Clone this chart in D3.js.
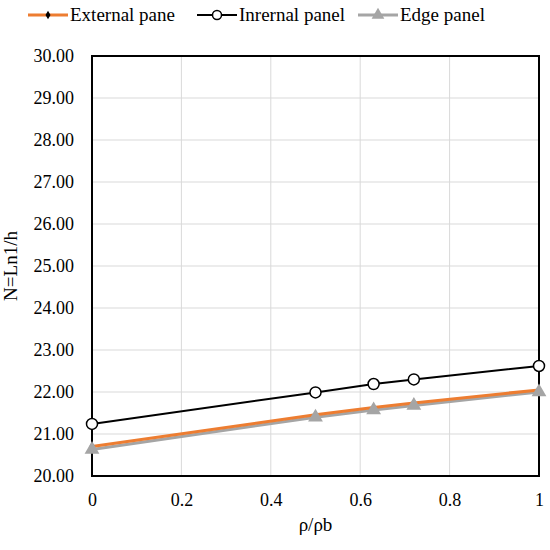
<!DOCTYPE html>
<html><head><meta charset="utf-8">
<script src="https://cdn.jsdelivr.net/npm/d3@7"></script>
<style>body{margin:0;background:#fff}svg{display:block}</style>
</head><body>
<svg id="c" width="550" height="550"></svg>
<script>
const xValues = [0, 0.5, 0.63, 0.72, 1];
const externalPane = [20.70, 21.46, 21.63, 21.74, 22.05];
const internalPanel = [21.24, 21.99, 22.19, 22.30, 22.62];
const edgePanel = [20.63, 21.40, 21.57, 21.68, 22.00];
const xTicks = [0, 0.2, 0.4, 0.6, 0.8, 1];
const yTicks = [20, 21, 22, 23, 24, 25, 26, 27, 28, 29, 30];
const seriesNames = ["External pane", "Inrernal panel", "Edge panel"];

const svg = d3.select("#c");
const L = 92, R = 539, T = 56, B = 476;
const x = d3.scaleLinear().domain([0, 1]).range([L, R]);
const y = d3.scaleLinear().domain([20, 30]).range([B, T]);
const FONT = "'Liberation Serif', 'Times New Roman', serif";

// grid
svg.append("g").selectAll("line.v").data(xTicks).join("line")
  .attr("x1", d => x(d)).attr("x2", d => x(d)).attr("y1", T).attr("y2", B)
  .attr("stroke", "#d9d9d9").attr("stroke-width", 1);
svg.append("g").selectAll("line.h").data(yTicks).join("line")
  .attr("x1", L).attr("x2", R).attr("y1", d => y(d)).attr("y2", d => y(d))
  .attr("stroke", "#d9d9d9").attr("stroke-width", 1);

const xAxis = svg.append("g").attr("transform", `translate(0,${B})`)
  .call(d3.axisBottom(x).tickValues(xTicks).tickFormat(d => d3.format("")(d)).tickSize(0).tickPadding(17));
xAxis.select(".domain").remove();
xAxis.selectAll("text").attr("fill", "#000").style("font-family", FONT).style("font-size", "18px");

const yAxis = svg.append("g").attr("transform", `translate(${L},0)`)
  .call(d3.axisLeft(y).tickValues(yTicks).tickFormat(d3.format(".2f")).tickSize(0).tickPadding(18));
yAxis.select(".domain").remove();
yAxis.selectAll("text").attr("fill", "#000").style("font-family", FONT).style("font-size", "18px");

// border
svg.append("rect").attr("x", L).attr("y", T).attr("width", R - L).attr("height", B - T)
  .attr("fill", "none").attr("stroke", "#000").attr("stroke-width", 2);

const line = d3.line().x((d, i) => x(xValues[i])).y(d => y(d));

// internal
svg.append("path").datum(internalPanel).attr("d", line).attr("fill", "none")
  .attr("stroke", "#000").attr("stroke-width", 2);
svg.append("g").selectAll("circle").data(internalPanel).join("circle")
  .attr("cx", (d, i) => x(xValues[i])).attr("cy", d => y(d)).attr("r", 5.5)
  .attr("fill", "#fff").attr("stroke", "#000").attr("stroke-width", 1.5);

// edge line (gray)
svg.append("path").datum(edgePanel).attr("d", line).attr("fill", "none")
  .attr("stroke", "#a5a5a5").attr("stroke-width", 3);
// external line (orange)
svg.append("path").datum(externalPane).attr("d", line).attr("fill", "none")
  .attr("stroke", "#ed7d31").attr("stroke-width", 3);
svg.append("g").selectAll("path").data(externalPane).join("path")
  .attr("d", d3.symbol(d3.symbolDiamond, 24))
  .attr("transform", (d, i) => `translate(${x(xValues[i])},${y(d)})`).attr("fill", "#000");
// edge triangles
svg.append("g").selectAll("path").data(edgePanel).join("path")
  .attr("d", d3.symbol(d3.symbolTriangle, 95))
  .attr("transform", (d, i) => `translate(${x(xValues[i])},${y(d)})`).attr("fill", "#a5a5a5");

// axis titles
svg.append("text").attr("x", (L + R) / 2).attr("y", 531).attr("text-anchor", "middle")
  .style("font-family", FONT).style("font-size", "19px").text("ρ/ρb");
svg.append("text").attr("transform", `translate(17,${(T + B) / 2}) rotate(-90)`)
  .attr("text-anchor", "middle").style("font-family", FONT).style("font-size", "19px").text("N=Ln1/h");

// legend
const leg = svg.append("g");
const legItems = [
  {x: 28, name: seriesNames[0], color: "#ed7d31", w: 3, mark: "diamond"},
  {x: 197, name: seriesNames[1], color: "#000", w: 2, mark: "circle"},
  {x: 358, name: seriesNames[2], color: "#a5a5a5", w: 3, mark: "triangle"}
];
const ly = 15;
legItems.forEach(it => {
  const g = leg.append("g");
  g.append("line").attr("x1", it.x).attr("x2", it.x + 40).attr("y1", ly).attr("y2", ly)
    .attr("stroke", it.color).attr("stroke-width", it.w);
  const cx = it.x + 20;
  if (it.mark === "diamond") g.append("path").attr("d", d3.symbol(d3.symbolDiamond, 22)).attr("transform", `translate(${cx},${ly})`).attr("fill", "#000");
  if (it.mark === "circle") g.append("circle").attr("cx", cx).attr("cy", ly).attr("r", 4.5).attr("fill", "#fff").attr("stroke", "#000").attr("stroke-width", 1.5);
  if (it.mark === "triangle") g.append("path").attr("d", d3.symbol(d3.symbolTriangle, 70)).attr("transform", `translate(${cx},${ly})`).attr("fill", "#a5a5a5");
  g.append("text").attr("x", it.x + 42).attr("y", ly + 6).style("font-family", FONT).style("font-size", "19px").text(it.name);
});
</script>
</body></html>
